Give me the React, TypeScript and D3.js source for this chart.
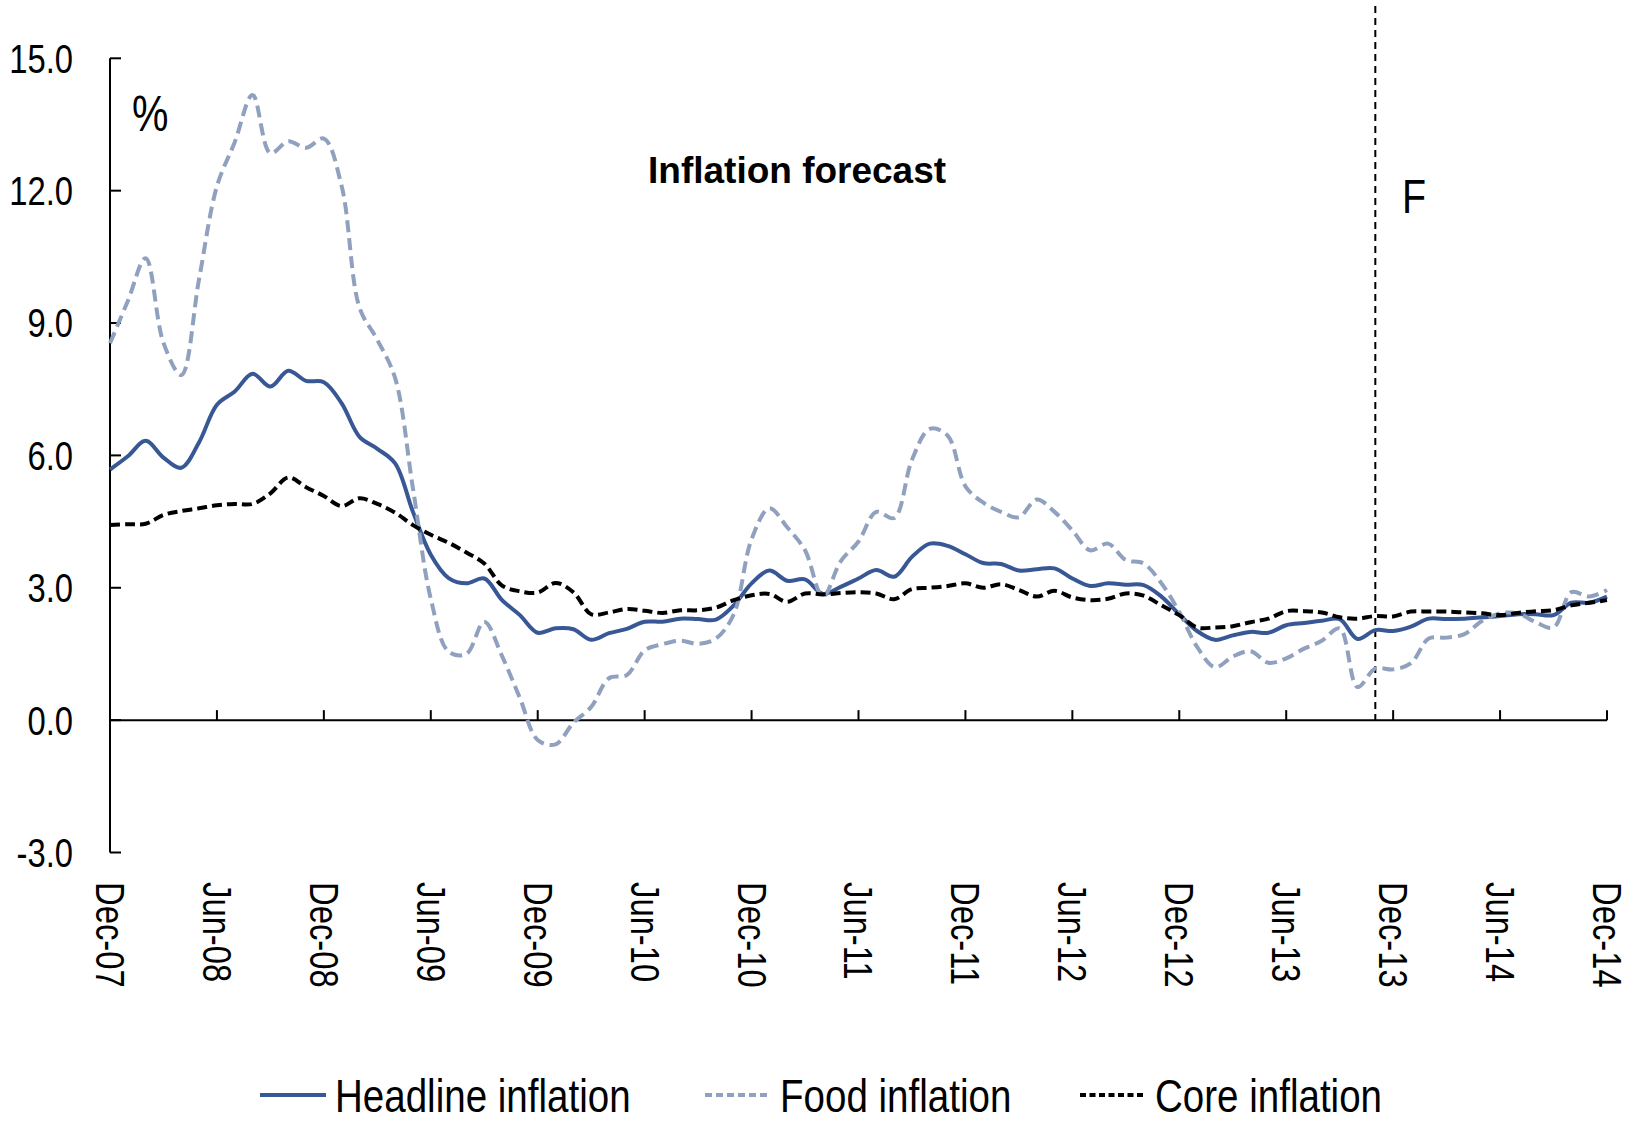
import React from "react";
import * as d3 from "d3";

// Monthly series, Dec-07 (index 0) to Dec-14 (index 84), year-on-year %
const headline = [
  5.68, 5.98, 6.33, 5.95, 5.72, 6.3, 7.15, 7.45, 7.85, 7.56, 7.92, 7.69, 7.66,
  7.18, 6.42, 6.15, 5.82, 4.72, 3.75, 3.22, 3.1, 3.21, 2.72, 2.38, 1.98, 2.08,
  2.06, 1.82, 1.97, 2.07, 2.23, 2.23, 2.3, 2.29, 2.28, 2.6, 3.1, 3.39, 3.16,
  3.19, 2.86, 3.02, 3.21, 3.4, 3.25, 3.7, 4.0, 3.95, 3.76, 3.56, 3.54, 3.39,
  3.42, 3.44, 3.21, 3.04, 3.1, 3.07, 3.06, 2.8, 2.4, 2.02, 1.82, 1.92, 2.0,
  1.98, 2.15, 2.2, 2.25, 2.29, 1.84, 2.04, 2.02, 2.12, 2.3, 2.29, 2.3, 2.33,
  2.36, 2.4, 2.4, 2.38, 2.66, 2.66, 2.8,
];

const food = [
  8.54, 9.5, 10.47, 8.55, 7.82, 10.0, 12.1, 13.1, 14.17, 12.85, 13.12, 12.97,
  13.18, 12.1, 9.35, 8.62, 7.75, 5.25, 2.75, 1.55, 1.5, 2.23, 1.45, 0.5, -0.45,
  -0.55, -0.06, 0.3, 0.95, 1.02, 1.58, 1.72, 1.8, 1.73, 1.85, 2.4, 4.1, 4.8,
  4.37, 3.85, 2.8, 3.6, 4.05, 4.72, 4.58, 5.9, 6.6, 6.45, 5.3, 4.93, 4.72, 4.6,
  5.0, 4.72, 4.3, 3.85, 4.0, 3.63, 3.55, 3.1, 2.45, 1.66, 1.2, 1.44, 1.56, 1.3,
  1.4, 1.62, 1.8, 2.08, 0.75, 1.17, 1.15, 1.29, 1.85, 1.87, 1.95, 2.25, 2.42,
  2.42, 2.22, 2.1, 2.9, 2.8, 2.95,
];

const core = [
  4.42, 4.44, 4.45, 4.65, 4.74, 4.8, 4.87, 4.9, 4.9, 5.14, 5.5, 5.28, 5.08,
  4.85, 5.03, 4.9, 4.7, 4.42, 4.2, 4.02, 3.8, 3.55, 3.05, 2.92, 2.89, 3.11, 2.9,
  2.4, 2.44, 2.52, 2.48, 2.43, 2.49, 2.49, 2.55, 2.72, 2.83, 2.86, 2.68, 2.87,
  2.85, 2.88, 2.9, 2.87, 2.74, 2.97, 3.0, 3.04, 3.1, 3.0, 3.08, 2.95, 2.8, 2.93,
  2.78, 2.72, 2.75, 2.87, 2.82, 2.6, 2.38, 2.1, 2.1, 2.13, 2.22, 2.3, 2.47,
  2.47, 2.44, 2.33, 2.3, 2.36, 2.35, 2.46, 2.46, 2.46, 2.44, 2.42, 2.38, 2.43,
  2.47, 2.49, 2.6, 2.66, 2.72,
];

const tickLabels = [
  "Dec-07", "Jun-08", "Dec-08", "Jun-09", "Dec-09", "Jun-10", "Dec-10",
  "Jun-11", "Dec-11", "Jun-12", "Dec-12", "Jun-13", "Dec-13", "Jun-14", "Dec-14",
];
const yTicks = [-3, 0, 3, 6, 9, 12, 15];
const forecastStart = 71; // Nov-13

const SANS = "'Liberation Sans', Arial, sans-serif";
// condensed look: regular sans squeezed horizontally
const NARROW_SCALE = 0.82;

const HEAD_COLOR = "#385895";
const FOOD_COLOR = "#8fa1be";
const CORE_COLOR = "#000000";

type NarrowProps = {
  x: number;
  y: number;
  size: number;
  anchor?: "start" | "middle" | "end";
  rotate?: number;
  dy?: string;
  children: React.ReactNode;
};

function NarrowText({ x, y, size, anchor = "start", rotate = 0, dy, children }: NarrowProps) {
  return (
    <text
      transform={`translate(${x},${y}) rotate(${rotate}) scale(${NARROW_SCALE},1)`}
      dy={dy}
      textAnchor={anchor}
      fontFamily={SANS}
      fontSize={size}
      fill="#000"
    >
      {children}
    </text>
  );
}

export default function App() {
  const W = 1635;
  const H = 1124;
  const x = d3.scaleLinear().domain([0, 84]).range([110, 1607]);
  const y = d3.scaleLinear().domain([-3, 15]).range([852.5, 58.3]);

  const line = d3
    .line<number>()
    .x((_, i) => x(i))
    .y((d) => y(d))
    .curve(d3.curveCatmullRom.alpha(0.5));

  const series = [
    { name: "Headline inflation", data: headline, color: HEAD_COLOR, dash: null, legendDash: null, lx: 260 },
    { name: "Food inflation", data: food, color: FOOD_COLOR, dash: "12,6", legendDash: "7,4", lx: 705 },
    { name: "Core inflation", data: core, color: CORE_COLOR, dash: "10,5", legendDash: "6,3.5", lx: 1080 },
  ];

  const y0 = y(0);
  const legendY = 1095;

  return (
    <svg
      width={W}
      height={H}
      viewBox={`0 0 ${W} ${H}`}
      style={{ position: "absolute", left: 0, top: 0, background: "#fff" }}
    >
      <rect width={W} height={H} fill="#fff" />

      {/* y axis */}
      <line x1={x(0)} x2={x(0)} y1={y(15)} y2={y(-3)} stroke="#000" strokeWidth={2} />
      {yTicks.map((t) => (
        <g key={t}>
          <line x1={x(0)} x2={x(0) + 11} y1={y(t)} y2={y(t)} stroke="#000" strokeWidth={2} />
          <NarrowText x={73} y={y(t)} size={40} anchor="end" dy="0.36em">
            {t.toFixed(1)}
          </NarrowText>
        </g>
      ))}

      {/* x axis on zero line */}
      <line x1={x(0)} x2={x(84)} y1={y0} y2={y0} stroke="#000" strokeWidth={2} />
      {tickLabels.map((lab, i) => {
        const tx = x(i * 6);
        return (
          <g key={lab}>
            <line x1={tx} x2={tx} y1={y0} y2={y0 - 10} stroke="#000" strokeWidth={2} />
            <NarrowText x={tx} y={882} size={40} rotate={90} dy="0.35em">
              {lab}
            </NarrowText>
          </g>
        );
      })}

      {/* forecast divider */}
      <line
        x1={x(forecastStart)}
        x2={x(forecastStart)}
        y1={6}
        y2={y0}
        stroke="#000"
        strokeWidth={2}
        strokeDasharray="7,5"
      />

      {/* series */}
      {series.map((s) => (
        <path
          key={s.name}
          d={line(s.data) || ""}
          fill="none"
          stroke={s.color}
          strokeWidth={4}
          strokeDasharray={s.dash || undefined}
          strokeLinejoin="round"
        />
      ))}

      {/* annotations */}
      <NarrowText x={132} y={131} size={50}>%</NarrowText>
      <text x={648} y={183} fontFamily={SANS} fontWeight="bold" fontSize={37} fill="#000">
        Inflation forecast
      </text>
      <NarrowText x={1402} y={213} size={48}>F</NarrowText>

      {/* legend */}
      {series.map((s) => (
        <g key={"lg" + s.name}>
          <line
            x1={s.lx}
            x2={s.lx + 66}
            y1={legendY}
            y2={legendY}
            stroke={s.color}
            strokeWidth={4}
            strokeDasharray={s.legendDash || undefined}
          />
          <NarrowText x={s.lx + 75} y={legendY + 17} size={47}>
            {s.name}
          </NarrowText>
        </g>
      ))}
    </svg>
  );
}
